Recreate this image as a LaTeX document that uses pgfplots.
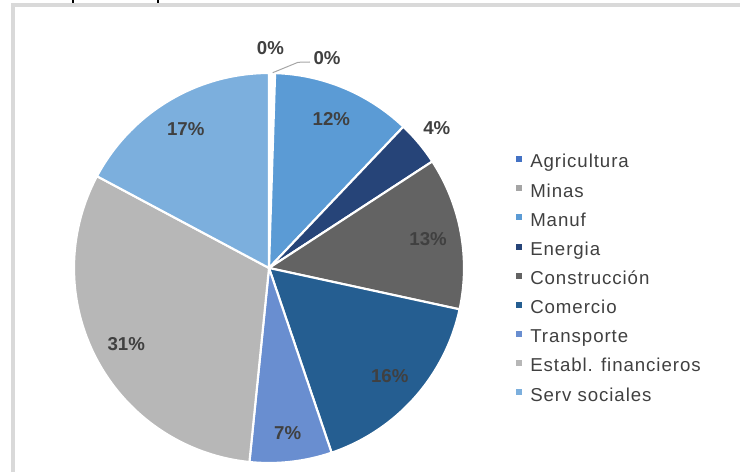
\documentclass[border=0pt]{standalone}
\usepackage{fontspec}
\setmainfont{Liberation Sans}
\newfontfamily\legfont[LetterSpace=5]{Liberation Sans}
\usepackage{pgfplots}
\usepackage{pgfplotstable}
\pgfplotsset{compat=1.18}

\definecolor{cAgri}{HTML}{4472C4}
\definecolor{cMinas}{HTML}{A5A5A5}
\definecolor{cManuf}{HTML}{5B9BD5}
\definecolor{cEnergia}{HTML}{264478}
\definecolor{cConst}{HTML}{636363}
\definecolor{cComer}{HTML}{255E91}
\definecolor{cTransp}{HTML}{698ED0}
\definecolor{cFinan}{HTML}{B7B7B7}
\definecolor{cServ}{HTML}{7CAFDD}
\definecolor{labtext}{HTML}{404040}
\definecolor{bordergray}{HTML}{D9D9D9}

% share in percent, slice colour, label distance (fraction of radius)
\pgfplotstableread[col sep=comma]{
name,value,col,lr
Agricultura,0.2,cAgri,1.13
Minas,0.3,cMinas,0
Manuf,11.6,cManuf,0.83
Energia,3.7,cEnergia,1.12
Construcción,12.6,cConst,0.83
Comercio,16.4,cComer,0.83
Transporte,6.8,cTransp,0.85
Establ. financieros,31.2,cFinan,0.83
Serv sociales,17.2,cServ,0.83
}\piedata

\tikzset{pielabel/.style={font=\bfseries\fontsize{14}{14}\selectfont, text=labtext}}

\begin{document}
\begin{tikzpicture}
\useasboundingbox (0,0) rectangle (555pt,354pt);
\begin{axis}[
  x=0.75pt, y=0.75pt,
  xmin=0, xmax=740, ymin=0, ymax=472,
  at={(0pt,0pt)}, anchor=origin,
  hide axis, clip=false,
  legend cell align=left,
  legend image code/.code={\fill[#1, draw=none] (0pt,1pt) rectangle (4.5pt,5.5pt); \path (10.5pt,0pt);},
  legend style={at={(axis cs:516,317)}, anchor=north west, draw=none, fill=none,
    inner sep=0pt, outer sep=0pt, row sep=9.15pt,
    font=\legfont\fontsize{14}{14}\selectfont, text=labtext,
    nodes={inner sep=0pt, text height=9.7pt, text depth=3pt}},
]
% frame of the chart area
\draw[bordergray, line width=3pt] (axis cs:13,0) -- (axis cs:13,467) -- (axis cs:740,467);
\draw[black, line width=0.8pt] (axis cs:73,469) -- (axis cs:73,473);
\draw[black, line width=0.8pt] (axis cs:158,469) -- (axis cs:158,473);

\pgfplotstablegetrowsof{\piedata}
\pgfmathtruncatemacro\nrows{\pgfplotsretval-1}
\def\angstart{90}
\pgfplotsforeachungrouped \i in {0,...,\nrows}{%
  \pgfplotstablegetelem{\i}{value}\of\piedata \let\v\pgfplotsretval
  \pgfplotstablegetelem{\i}{col}\of\piedata \let\c\pgfplotsretval
  \pgfplotstablegetelem{\i}{lr}\of\piedata \let\lr\pgfplotsretval
  \pgfplotstablegetelem{\i}{name}\of\piedata \let\nm\pgfplotsretval
  \pgfmathsetmacro\angend{\angstart-3.6*\v}
  \pgfmathsetmacro\angmid{(\angstart+\angend)/2}
  \pgfmathsetmacro\lx{269+195*\lr*cos(\angmid)}
  \pgfmathsetmacro\ly{204+195*\lr*sin(\angmid)}
  \pgfmathtruncatemacro\lab{round(\v)}
  \edef\cmd{\noexpand\fill[\c, draw=white, line width=1.6pt] (axis cs:269,204) -- ++(\angstart:146.25pt)
    arc[start angle=\angstart, end angle=\angend, radius=146.25pt] -- cycle;}
  \cmd
  \ifdim\lr pt>0pt
    \edef\cmd{\noexpand\node[pielabel] at (axis cs:\lx,\ly) {\lab\noexpand\%};}
    \cmd
  \fi
  \edef\cmd{\noexpand\addlegendimage{fill=\c}}\cmd
  \edef\cmd{\noexpand\addlegendentry{\nm}}\cmd
  \let\angstart\angend
}
% white gap left by the two thin slices at the top
\fill[white] (axis cs:269,204) -- ++(90:146.25pt) arc[start angle=90, end angle=88.2, radius=146.25pt] -- cycle;
% label of the thin Minas slice with its leader line
\draw[gray!70, line width=0.75pt] (axis cs:272.7,399.3) -- (axis cs:298,409.7) -- (axis cs:310,410);
\node[pielabel] at (axis cs:327,414) {0\%};
\end{axis}
\end{tikzpicture}
\end{document}
